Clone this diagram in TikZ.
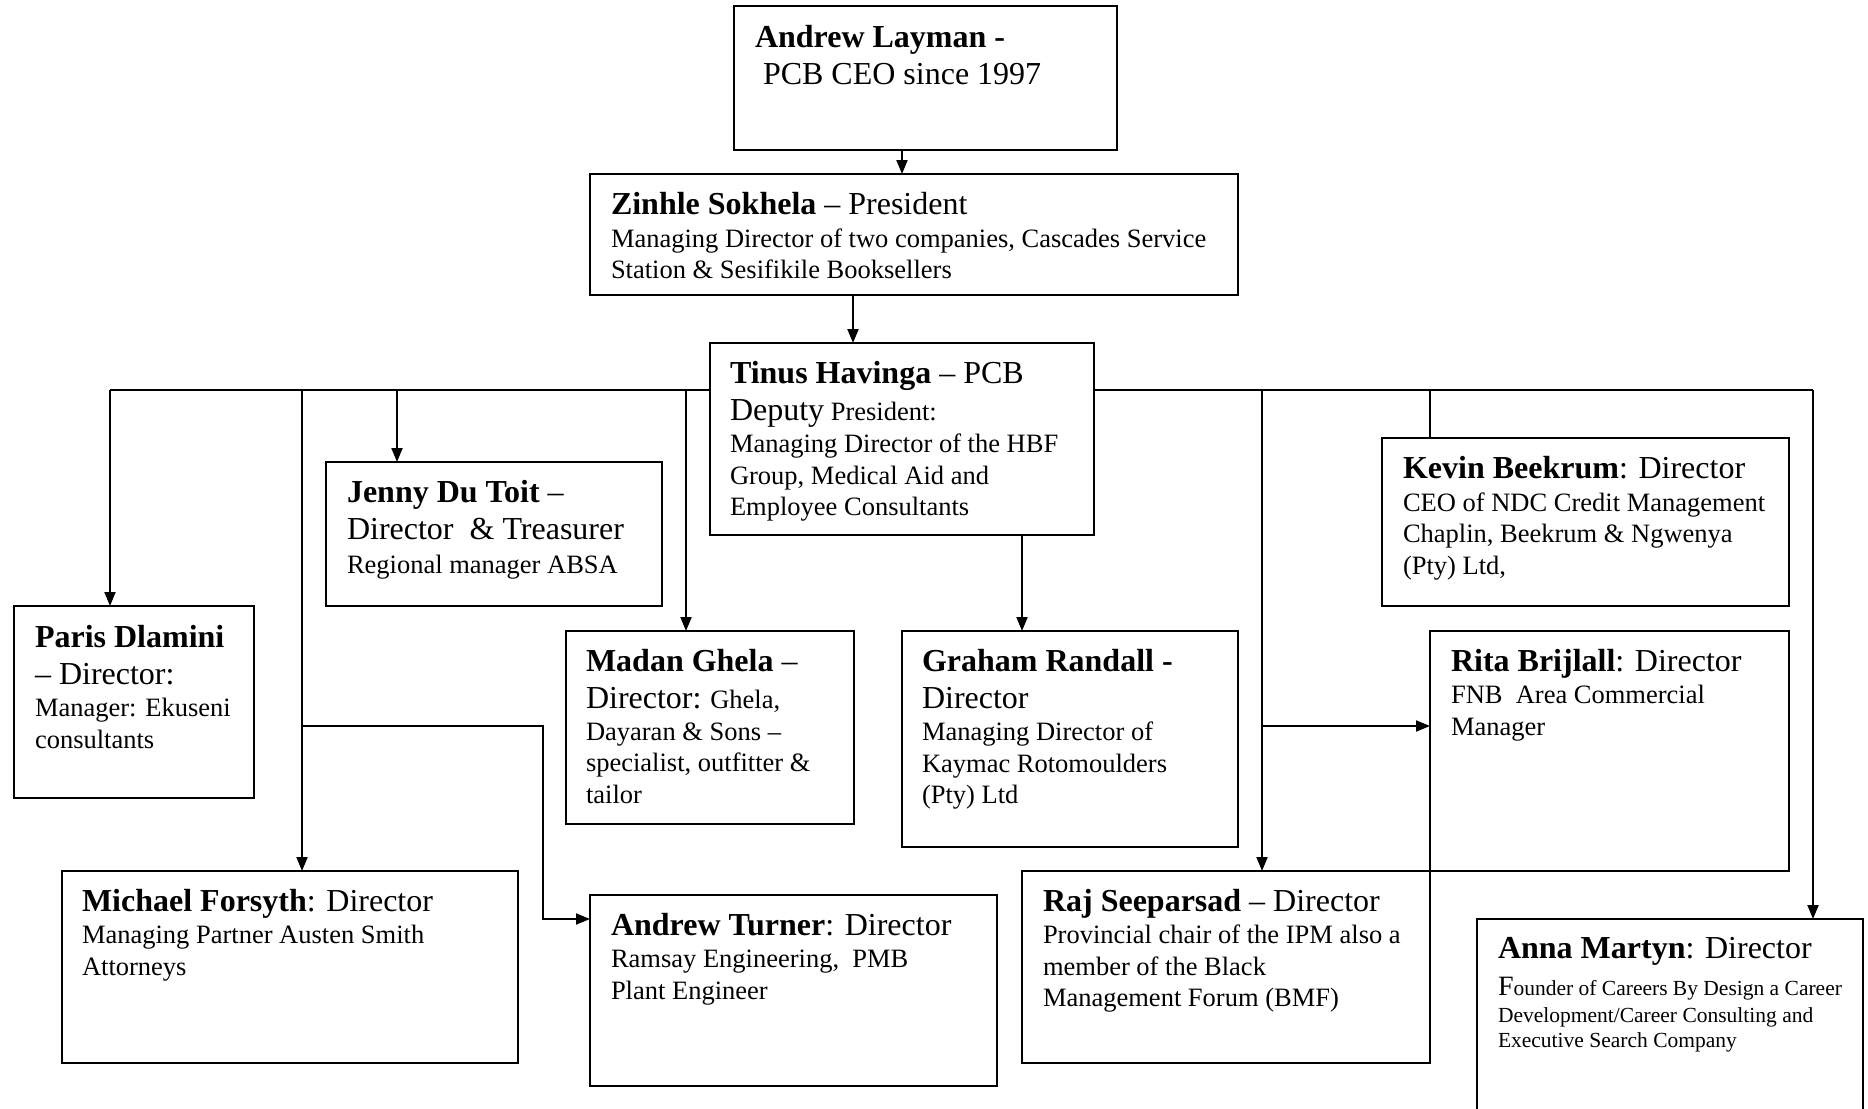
\documentclass[tikz,border=0pt]{standalone}
\usepackage{fontspec}
\setmainfont{Liberation Serif}
\usetikzlibrary{arrows.meta,calc}
\newcommand\xBig{\fontsize{32}{37}\selectfont}
\newcommand\xB[1]{{\xBig #1}}
\newcommand\xBB[1]{{\xBig\bfseries #1}}
\newcommand\xLn[2]{{\fontsize{26.5}{#1pt}\selectfont\mbox{#2}\par}}
\newcommand\xLm[2]{{\fontsize{21.5}{#1pt}\selectfont\mbox{#2}\par}}
\begin{document}
\begin{tikzpicture}[x=1pt,y=-1pt,
  box/.style={draw, line width=2.3pt, rectangle, anchor=north west, inner sep=0pt, outer sep=0pt},
  txt/.style={anchor=base west, inner sep=0pt, outer sep=0pt},
  ln/.style={line width=2pt},
  arr/.style={line width=2pt, -{Triangle[length=14pt,width=11pt]}}]
\useasboundingbox (0,0) rectangle (1868,1108);
\fill[white] (0,0) rectangle (1868,1108);
\begin{scope}
\clip (0,0) rectangle (1868,1108);
% boxes
\node[box, minimum width=383pt, minimum height=144pt] (L) at (734,6) {};
\node[box, minimum width=648pt, minimum height=121pt] (Z) at (590,174) {};
\node[box, minimum width=384pt, minimum height=192pt] (T) at (710,343) {};
\node[box, minimum width=336pt, minimum height=144pt] (J) at (326,462) {};
\node[box, minimum width=407pt, minimum height=168pt] (K) at (1382,438) {};
\node[box, minimum width=240pt, minimum height=192pt] (P) at (14,606) {};
\node[box, minimum width=288pt, minimum height=193pt] (M) at (566,631) {};
\node[box, minimum width=336pt, minimum height=216pt] (G) at (902,631) {};
\node[box, minimum width=359pt, minimum height=240pt] (R) at (1430,631) {};
\node[box, minimum width=456pt, minimum height=192pt] (F) at (62,871) {};
\node[box, minimum width=407pt, minimum height=191pt] (A) at (590,895) {};
\node[box, minimum width=408pt, minimum height=192pt] (S) at (1022,871) {};
\node[box, minimum width=386pt, minimum height=205pt] (N) at (1477,919) {};
% texts
\node[txt] (tL) at ($(L.north west)+(21,42)$) {\parbox[t]{350pt}{%
  \xLn{0}{\xBB{Andrew Layman -}}%
  \xLn{37}{\xB{\ PCB CEO since 1997}}}};
\node[txt] (tZ) at ($(Z.north west)+(21,40)$) {\parbox[t]{615pt}{%
  \xLn{0}{\xBB{Zinhle Sokhela}\xB{\ – President}}%
  \xLn{33}{Managing Director of two companies, Cascades Service}%
  \xLn{31.5}{Station \& Sesifikile Booksellers}}};
\node[txt] (tT) at ($(T.north west)+(20,40)$) {\parbox[t]{350pt}{%
  \xLn{0}{\xBB{Tinus Havinga}\xB{\ – PCB}}%
  \xLn{37.5}{\xB{Deputy} President:}%
  \xLn{32}{Managing Director of the HBF}%
  \xLn{31.5}{Group, Medical Aid and}%
  \xLn{31.5}{Employee Consultants}}};
\node[txt] (tJ) at ($(J.north west)+(21,40)$) {\parbox[t]{300pt}{%
  \xLn{0}{\xBB{Jenny Du Toit}\xB{\ –}}%
  \xLn{37.5}{\xB{Director\ \ \& Treasurer}}%
  \xLn{33.5}{Regional manager ABSA}}};
\node[txt] (tK) at ($(K.north west)+(21,40)$) {\parbox[t]{370pt}{%
  \xLn{0}{\xBB{Kevin Beekrum}\xB{: Director}}%
  \xLn{33}{CEO of NDC Credit Management}%
  \xLn{31.5}{Chaplin, Beekrum \& Ngwenya}%
  \xLn{31.5}{(Pty) Ltd,}}};
\node[txt] (tP) at ($(P.north west)+(21,41)$) {\parbox[t]{210pt}{%
  \xLn{0}{\xBB{Paris Dlamini}}%
  \xLn{37.5}{\xB{– Director:}}%
  \xLn{32}{Manager: Ekuseni}%
  \xLn{31.5}{consultants}}};
\node[txt] (tM) at ($(M.north west)+(20,40)$) {\parbox[t]{260pt}{%
  \xLn{0}{\xBB{Madan Ghela}\xB{\ –}}%
  \xLn{37.5}{\xB{Director:} Ghela,}%
  \xLn{31.5}{Dayaran \& Sons –}%
  \xLn{31.5}{specialist, outfitter \&}%
  \xLn{31.5}{tailor}}};
\node[txt] (tG) at ($(G.north west)+(20,40)$) {\parbox[t]{300pt}{%
  \xLn{0}{\xBB{Graham Randall -}}%
  \xLn{37.5}{\xB{Director}}%
  \xLn{32}{Managing Director of}%
  \xLn{31.5}{Kaymac Rotomoulders}%
  \xLn{31.5}{(Pty) Ltd}}};
\node[txt] (tR) at ($(R.north west)+(21,40)$) {\parbox[t]{320pt}{%
  \xLn{0}{\xBB{Rita Brijlall}\xB{: Director}}%
  \xLn{32.5}{FNB\ \ Area Commercial}%
  \xLn{31.5}{Manager}}};
\node[txt] (tF) at ($(F.north west)+(20,40)$) {\parbox[t]{420pt}{%
  \xLn{0}{\xBB{Michael Forsyth}\xB{: Director}}%
  \xLn{32.5}{Managing Partner Austen Smith}%
  \xLn{31.5}{Attorneys}}};
\node[txt] (tA) at ($(A.north west)+(21,40)$) {\parbox[t]{370pt}{%
  \xLn{0}{\xBB{Andrew Turner}\xB{: Director}}%
  \xLn{32.5}{Ramsay Engineering,\ \ PMB}%
  \xLn{31.5}{Plant Engineer}}};
\node[txt] (tS) at ($(S.north west)+(21,40)$) {\parbox[t]{370pt}{%
  \xLn{0}{\xBB{Raj Seeparsad}\xB{\ – Director}}%
  \xLn{32.5}{Provincial chair of the IPM also a}%
  \xLn{31.5}{member of the Black}%
  \xLn{31.5}{Management Forum (BMF)}}};
\node[txt] (tN) at ($(N.north west)+(21,39)$) {\parbox[t]{355pt}{%
  \xLn{0}{\xBB{Anna Martyn}\xB{: Director}}%
  \xLm{37.5}{{\fontsize{28}{30}\selectfont F}ounder of Careers By Design a Career}%
  \xLm{27}{Development/Career Consulting and}%
  \xLm{25}{Executive Search Company}}};
% connector points
\coordinate (bP) at (110,390);
\coordinate (bF) at (302,390);
\coordinate (bJ) at (397,390);
\coordinate (bM) at (686,390);
\coordinate (bS) at (1262,390);
\coordinate (bK) at (1430,390);
\coordinate (bN) at (1813,390);
\coordinate (jF) at (302,726);
\coordinate (cA) at (543,726);
\coordinate (dA) at (543,919);
\coordinate (jS) at (1262,726);
% connectors
\draw[arr] (902,0 |- L.south) -- (902,0 |- Z.north);
\draw[arr] (853,0 |- Z.south) -- (853,0 |- T.north);
\draw[ln] (T.west |- bP) -- (bP);
\draw[ln] (T.east |- bN) -- (bN);
\draw[arr] (bP) -- (bP |- P.north);
\draw[arr] (bF) -- (bF |- F.north);
\draw[arr] (bJ) -- (bJ |- J.north);
\draw[arr] (bM) -- (bM |- M.north);
\draw[arr] (bS) -- (bS |- S.north);
\draw[ln] (bK) -- (bK |- K.north);
\draw[arr] (bN) -- (bN |- N.north);
\draw[arr] (1022,0 |- T.south) -- (1022,0 |- G.north);
\draw[arr] (jF) -- (cA) -- (dA) -- (dA -| A.west);
\draw[arr] (jS) -- (jS -| R.west);
\end{scope}
\end{tikzpicture}
\end{document}
